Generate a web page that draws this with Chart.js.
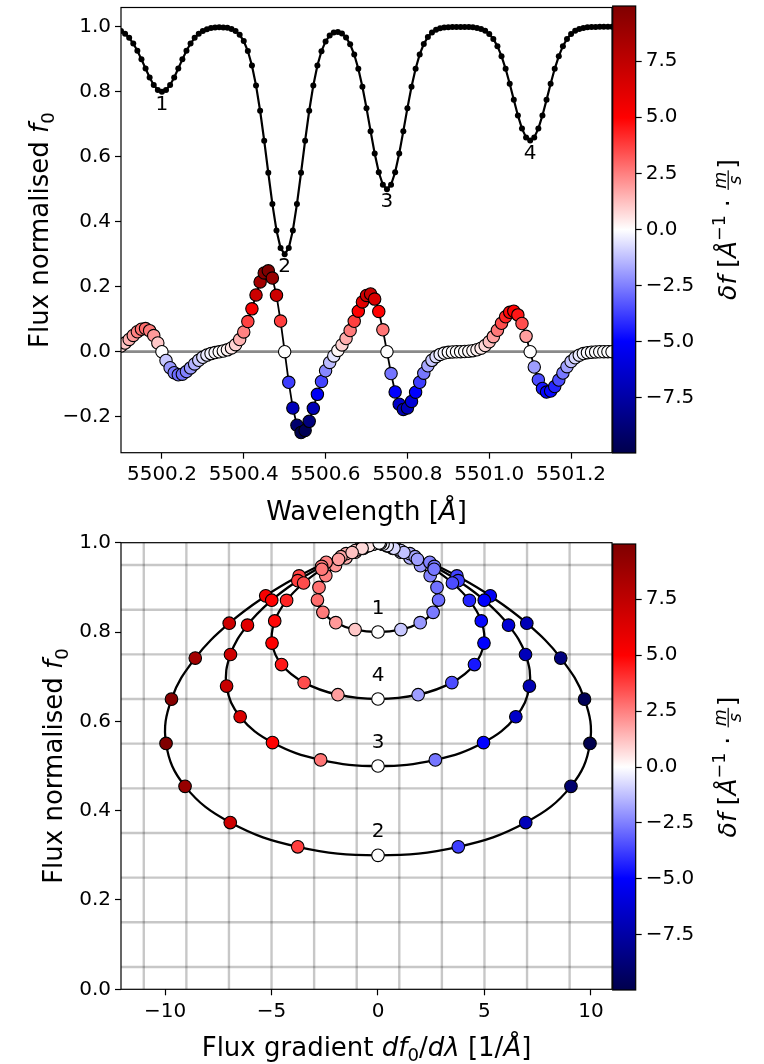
<!DOCTYPE html>
<html>
<head>
<meta charset="utf-8">
<script src="https://cdn.jsdelivr.net/npm/chart.js@4.4.1/dist/chart.umd.min.js"></script>
<style>
  html, body { margin: 0; padding: 0; background: #fff; }
  #fig { position: relative; width: 764px; height: 1064px; overflow: hidden; background: #fff; }
  #fig canvas { position: absolute; }
</style>
</head>
<body>
<div id="fig">
  <canvas id="spec"></canvas>
  <canvas id="specBar"></canvas>
  <canvas id="phase"></canvas>
  <canvas id="phaseBar"></canvas>
</div>
<script>
// ---------------------------------------------------------------------------
// Spectrum sampled every 0.01 Å: normalised flux f0 and its gradient df0/dλ
// ---------------------------------------------------------------------------
const wavelength = [
  5500.10, 5500.11, 5500.12, 5500.13, 5500.14, 5500.15, 5500.16, 5500.17, 5500.18, 5500.19,
  5500.20, 5500.21, 5500.22, 5500.23, 5500.24, 5500.25, 5500.26, 5500.27, 5500.28, 5500.29,
  5500.30, 5500.31, 5500.32, 5500.33, 5500.34, 5500.35, 5500.36, 5500.37, 5500.38, 5500.39,
  5500.40, 5500.41, 5500.42, 5500.43, 5500.44, 5500.45, 5500.46, 5500.47, 5500.48, 5500.49,
  5500.50, 5500.51, 5500.52, 5500.53, 5500.54, 5500.55, 5500.56, 5500.57, 5500.58, 5500.59,
  5500.60, 5500.61, 5500.62, 5500.63, 5500.64, 5500.65, 5500.66, 5500.67, 5500.68, 5500.69,
  5500.70, 5500.71, 5500.72, 5500.73, 5500.74, 5500.75, 5500.76, 5500.77, 5500.78, 5500.79,
  5500.80, 5500.81, 5500.82, 5500.83, 5500.84, 5500.85, 5500.86, 5500.87, 5500.88, 5500.89,
  5500.90, 5500.91, 5500.92, 5500.93, 5500.94, 5500.95, 5500.96, 5500.97, 5500.98, 5500.99,
  5501.00, 5501.01, 5501.02, 5501.03, 5501.04, 5501.05, 5501.06, 5501.07, 5501.08, 5501.09,
  5501.10, 5501.11, 5501.12, 5501.13, 5501.14, 5501.15, 5501.16, 5501.17, 5501.18, 5501.19,
  5501.20, 5501.21, 5501.22, 5501.23, 5501.24, 5501.25, 5501.26, 5501.27, 5501.28, 5501.29,
  5501.30
];

const flux = [
  0.9874, 0.9788, 0.9660, 0.9485, 0.9262, 0.8999, 0.8716, 0.8441, 0.8210, 0.8055,
  0.8000, 0.8055, 0.8210, 0.8441, 0.8716, 0.8999, 0.9262, 0.9485, 0.9660, 0.9788,
  0.9874, 0.9929, 0.9962, 0.9979, 0.9985, 0.9982, 0.9968, 0.9934, 0.9870, 0.9754,
  0.9561, 0.9256, 0.8810, 0.8197, 0.7416, 0.6496, 0.5505, 0.4544, 0.3734, 0.3191,
  0.3000, 0.3191, 0.3734, 0.4544, 0.5505, 0.6496, 0.7416, 0.8196, 0.8808, 0.9252,
  0.9551, 0.9732, 0.9824, 0.9842, 0.9794, 0.9672, 0.9463, 0.9147, 0.8711, 0.8154,
  0.7497, 0.6789, 0.6103, 0.5524, 0.5137, 0.5000, 0.5137, 0.5524, 0.6103, 0.6789,
  0.7497, 0.8154, 0.8712, 0.9150, 0.9469, 0.9686, 0.9824, 0.9907, 0.9954, 0.9978,
  0.9990, 0.9996, 0.9998, 0.9998, 0.9997, 0.9993, 0.9985, 0.9967, 0.9935, 0.9877,
  0.9780, 0.9628, 0.9405, 0.9098, 0.8708, 0.8248, 0.7752, 0.7272, 0.6867, 0.6596,
  0.6500, 0.6596, 0.6867, 0.7272, 0.7752, 0.8248, 0.8708, 0.9098, 0.9405, 0.9628,
  0.9780, 0.9877, 0.9935, 0.9967, 0.9985, 0.9993, 0.9997, 0.9999, 1.0000, 1.0000,
  1.0000
];

const fluxGradient = [
  -0.695, -1.059, -1.506, -1.997, -2.452, -2.771, -2.844, -2.589, -1.982, -1.077,
   0.000,  1.077,  1.982,  2.589,  2.844,  2.771,  2.452,  1.997,  1.506,  1.059,
   0.694,  0.424,  0.238,  0.112,  0.016, -0.082, -0.224, -0.462, -0.861, -1.495,
  -2.433, -3.705, -5.272, -6.988, -8.583, -9.699, -9.955, -9.062, -6.939, -3.770,
   0.000,  3.770,  6.939,  9.062,  9.955,  9.698,  8.581,  6.982,  5.257,  3.668,
   2.351,  1.326,  0.529, -0.149, -0.830, -1.623, -2.595, -3.744, -4.982, -6.128,
  -6.927, -7.111, -6.473, -4.956, -2.693,  0.000,  2.693,  4.956,  6.473,  7.111,
   6.928,  6.131,  4.991,  3.766,  2.646,  1.738,  1.069,  0.617,  0.335,  0.171,
   0.081,  0.035,  0.011, -0.005, -0.024, -0.056, -0.119, -0.234, -0.432, -0.748,
  -1.216, -1.852, -2.636, -3.494, -4.292, -4.850, -4.977, -4.531, -3.469, -1.885,
   0.000,  1.885,  3.469,  4.531,  4.977,  4.850,  4.292,  3.494,  2.636,  1.852,
   1.216,  0.748,  0.432,  0.234,  0.119,  0.057,  0.026,  0.011,  0.004,  0.002,
   0.001
];

// ---------------------------------------------------------------------------
// Each absorption line on its own: flux and gradient on the same 0.01 Å grid
// ---------------------------------------------------------------------------
const line1Flux = [
  0.9874, 0.9788, 0.9660, 0.9485, 0.9262, 0.8999, 0.8716, 0.8441, 0.8210, 0.8055,
  0.8000, 0.8055, 0.8210, 0.8441, 0.8716, 0.8999, 0.9262, 0.9485, 0.9660, 0.9788,
  0.9874, 0.9930, 0.9963, 0.9981, 0.9991, 0.9996
];
const line1Gradient = [
  -0.695, -1.059, -1.506, -1.997, -2.452, -2.771, -2.844, -2.589, -1.982, -1.077,
   0.000,  1.077,  1.982,  2.589,  2.844,  2.771,  2.452,  1.997,  1.506,  1.059,
   0.695,  0.428,  0.247,  0.134,  0.068,  0.033
];

const line2Flux = [
  0.9986, 0.9969, 0.9935, 0.9870, 0.9754, 0.9561, 0.9256, 0.8810, 0.8197, 0.7416,
  0.6496, 0.5505, 0.4544, 0.3734, 0.3191, 0.3000, 0.3191, 0.3734, 0.4544, 0.5505,
  0.6496, 0.7416, 0.8197, 0.8810, 0.9256, 0.9561, 0.9754, 0.9870, 0.9935, 0.9969,
  0.9986
];
const line2Gradient = [
  -0.115, -0.239, -0.468, -0.864, -1.496, -2.433, -3.705, -5.272, -6.988, -8.583,
  -9.699, -9.955, -9.062, -6.939, -3.770,  0.000,  3.770,  6.939,  9.062,  9.955,
   9.699,  8.583,  6.988,  5.272,  3.705,  2.433,  1.496,  0.864,  0.468,  0.239,
   0.115
];

const line3Flux = [
  0.9990, 0.9978, 0.9954, 0.9907, 0.9824, 0.9686, 0.9469, 0.9150, 0.8712, 0.8154,
  0.7497, 0.6789, 0.6103, 0.5524, 0.5137, 0.5000, 0.5137, 0.5524, 0.6103, 0.6789,
  0.7497, 0.8154, 0.8712, 0.9150, 0.9469, 0.9686, 0.9824, 0.9907, 0.9954, 0.9978,
  0.9990
];
const line3Gradient = [
  -0.082, -0.171, -0.335, -0.617, -1.069, -1.738, -2.646, -3.766, -4.991, -6.131,
  -6.928, -7.111, -6.473, -4.956, -2.693,  0.000,  2.693,  4.956,  6.473,  7.111,
   6.928,  6.131,  4.991,  3.766,  2.646,  1.738,  1.069,  0.617,  0.335,  0.171,
   0.082
];

const line4Flux = [
  0.9993, 0.9985, 0.9967, 0.9935, 0.9877, 0.9780, 0.9628, 0.9405, 0.9098, 0.8708,
  0.8248, 0.7752, 0.7272, 0.6867, 0.6596, 0.6500, 0.6596, 0.6867, 0.7272, 0.7752,
  0.8248, 0.8708, 0.9098, 0.9405, 0.9628, 0.9780, 0.9877, 0.9935, 0.9967, 0.9985,
  0.9993
];
const line4Gradient = [
  -0.057, -0.119, -0.234, -0.432, -0.748, -1.216, -1.852, -2.636, -3.494, -4.292,
  -4.850, -4.977, -4.531, -3.469, -1.885,  0.000,  1.885,  3.469,  4.531,  4.977,
   4.850,  4.292,  3.494,  2.636,  1.852,  1.216,  0.748,  0.432,  0.234,  0.119,
   0.057
];

// Line identifiers, centres [Å] and central flux depths
const lineNames   = ['1', '2', '3', '4'];
const lineCentres = [5500.20, 5500.50, 5500.75, 5501.10];
const lineMinima  = [0.80, 0.30, 0.50, 0.65];

// Axis ticks, grid positions and the colour range of δf
const wavelengthTicks = [5500.2, 5500.4, 5500.6, 5500.8, 5501.0, 5501.2];
const fluxTicksTop    = [-0.2, 0.0, 0.2, 0.4, 0.6, 0.8, 1.0];
const fluxTicksBottom = [0.0, 0.2, 0.4, 0.6, 0.8, 1.0];
const gradientTicks   = [-10, -5, 0, 5, 10];
const colourTicks     = [-7.5, -5.0, -2.5, 0.0, 2.5, 5.0, 7.5];
const gridGradient    = [-11, -9, -7, -5, -3, -1, 1, 3, 5, 7, 9];
const gridFlux        = [0.05, 0.15, 0.25, 0.35, 0.45, 0.55, 0.65, 0.75, 0.85, 0.95];
const colourRange     = [-9.956, 9.956];

// ---------------------------------------------------------------------------
// Helpers
// ---------------------------------------------------------------------------
const FONT = '"DejaVu Sans", sans-serif';
Chart.defaults.font.family = FONT;
Chart.defaults.color = '#000';
Chart.defaults.animation = false;

const MINUS = '\u2212';
const fmt = (v, d) => { const s = Math.abs(v).toFixed(d); return (v < -1e-9 ? MINUS : '') + s; };

// matplotlib "seismic" colour map
function seismic(v) {
  let t = (v - colourRange[0]) / (colourRange[1] - colourRange[0]);
  t = Math.max(0, Math.min(1, t));
  let r, g, b;
  if (t < 0.25)      { r = 0; g = 0; b = 0.3 + 0.7 * t / 0.25; }
  else if (t < 0.5)  { const s = (t - 0.25) / 0.25; r = s; g = s; b = 1; }
  else if (t < 0.75) { const s = (t - 0.5) / 0.25; r = 1; g = 1 - s; b = 1 - s; }
  else               { const s = (t - 0.75) / 0.25; r = 1 - 0.5 * s; g = 0; b = 0; }
  return `rgb(${Math.round(r * 255)},${Math.round(g * 255)},${Math.round(b * 255)})`;
}
// δf is the negative of the flux gradient
const deltaColour = (grad) => seismic(-grad);

// Text made of runs (italic, sub/superscript, small fraction)
function runFont(r, base) {
  return (r.it ? 'italic ' : '') + (base * (r.s || 1)).toFixed(2) + 'px ' + FONT;
}
function runWidth(ctx, r, base) {
  ctx.font = runFont(r, base);
  if (r.frac) {
    return Math.max(ctx.measureText(r.frac[0]).width, ctx.measureText(r.frac[1]).width) + base * 0.22;
  }
  return ctx.measureText(r.t).width;
}
function drawRich(ctx, runs, cx, cy, base, angle) {
  ctx.save();
  ctx.translate(cx, cy);
  ctx.rotate(angle || 0);
  ctx.fillStyle = '#000';
  ctx.textBaseline = 'alphabetic';
  const widths = runs.map(r => runWidth(ctx, r, base));
  const total = widths.reduce((a, b) => a + b, 0);
  let x = -total / 2;
  const baseY = base * 0.36;
  runs.forEach((r, i) => {
    ctx.font = runFont(r, base);
    if (r.frac) {
      const w = widths[i];
      const axisY = baseY - base * 0.3;
      const small = base * (r.s || 1);
      ctx.textAlign = 'center';
      ctx.fillText(r.frac[0], x + w / 2, axisY - base * 0.1);
      ctx.fillText(r.frac[1], x + w / 2, axisY + base * 0.1 + small * 0.56);
      ctx.fillRect(x + base * 0.06, axisY - 0.6, w - base * 0.12, 1.2);
    } else {
      ctx.textAlign = 'left';
      ctx.fillText(r.t, x, baseY + (r.dy || 0) * base);
    }
    x += widths[i];
  });
  ctx.restore();
}

function setupCanvas(id, left, top, width, height) {
  const c = document.getElementById(id);
  c.width = width; c.height = height;
  c.style.left = left + 'px'; c.style.top = top + 'px';
  c.style.width = width + 'px'; c.style.height = height + 'px';
  return c;
}

const TICK_FONT = { family: FONT, size: 20 };
const LABEL_SIZE = 26;

function tickAxis(values, digits, extra) {
  return Object.assign({
    type: 'linear',
    afterBuildTicks: (s) => { s.ticks = values.map(v => ({ value: v })); },
    ticks: { font: TICK_FONT, color: '#000', padding: 4, autoSkip: false, maxRotation: 0,
             callback: (v) => fmt(v, digits) },
    grid: { drawOnChartArea: false, drawTicks: true, tickLength: 6, tickWidth: 1.2, tickColor: '#000' },
    border: { display: false }
  }, extra);
}

// Axes frame drawn above the data
const framePlugin = {
  id: 'frame',
  afterDatasetsDraw(chart) {
    const a = chart.chartArea, ctx = chart.ctx;
    ctx.save();
    ctx.strokeStyle = '#000';
    ctx.lineWidth = 1.2;
    ctx.strokeRect(a.left, a.top, a.right - a.left, a.bottom - a.top);
    ctx.restore();
  }
};

// ---------------------------------------------------------------------------
// Upper panel: spectrum and δf
// ---------------------------------------------------------------------------
const SHIFT_SCALE = 0.025;  // display height of δf relative to the flux axis
const Y_TOP = [-0.311, 1.0595];

const specPoints  = wavelength.map((w, i) => ({ x: w, y: flux[i] }));
const shiftPoints = wavelength.map((w, i) => ({ x: w, y: fluxGradient[i] }));

const specDecor = {
  id: 'specDecor',
  beforeDatasetsDraw(chart) {
    const a = chart.chartArea, ctx = chart.ctx;
    const y0 = chart.scales.y.getPixelForValue(0);
    ctx.save();
    ctx.strokeStyle = '#8a8a8a';
    ctx.lineWidth = 2.6;
    ctx.beginPath(); ctx.moveTo(a.left, y0); ctx.lineTo(a.right, y0); ctx.stroke();
    ctx.restore();
  },
  afterDraw(chart) {
    const ctx = chart.ctx, a = chart.chartArea, sx = chart.scales.x, sy = chart.scales.y;
    ctx.save();
    ctx.fillStyle = '#000';
    ctx.font = '20px ' + FONT;
    ctx.textAlign = 'center';
    ctx.textBaseline = 'middle';
    lineNames.forEach((n, k) => {
      ctx.fillText(n, sx.getPixelForValue(lineCentres[k]), sy.getPixelForValue(lineMinima[k] - 0.04));
    });
    ctx.restore();
    drawRich(ctx, [{ t: 'Wavelength [' }, { t: 'Å', it: true }, { t: ']' }],
             (a.left + a.right) / 2, a.bottom + 58, LABEL_SIZE, 0);
    drawRich(ctx, [{ t: 'Flux normalised ' }, { t: 'f', it: true }, { t: '0', s: 0.7, dy: 0.22 }],
             a.left - 82, (a.top + a.bottom) / 2, LABEL_SIZE, -Math.PI / 2);
  }
};

setupCanvas('spec', 0, -20, 640, 550);
new Chart(document.getElementById('spec'), {
  type: 'scatter',
  data: {
    datasets: [
      { // spectrum
        data: specPoints, yAxisID: 'y', order: 1, showLine: true, tension: 0, clip: 0,
        borderColor: '#000', borderWidth: 2.2,
        pointRadius: 3.0, pointBackgroundColor: '#000', pointBorderWidth: 0
      },
      { // δf markers
        data: shiftPoints, yAxisID: 'yShift', order: 2, showLine: false, clip: 0,
        pointRadius: 6.2, pointBorderWidth: 1.1, pointBorderColor: '#000',
        pointBackgroundColor: fluxGradient.map(deltaColour)
      },
      { // δf connecting line
        data: shiftPoints, yAxisID: 'yShift', order: 3, showLine: true, tension: 0, clip: 0,
        borderColor: '#000', borderWidth: 1.8, pointRadius: 0
      }
    ]
  },
  options: {
    responsive: false, events: [],
    layout: { padding: { left: 0, right: 28, top: 27.5, bottom: 0 } },
    plugins: { legend: { display: false }, tooltip: { enabled: false } },
    scales: {
      x: tickAxis(wavelengthTicks, 1, { position: 'bottom', min: 5500.1, max: 5501.3,
            afterFit: (s) => { s.height = 77.3; } }),
      y: tickAxis(fluxTicksTop, 1, { position: 'left', min: Y_TOP[0], max: Y_TOP[1],
            afterFit: (s) => { s.width = 121; } }),
      // gradient axis: δf = −df0/dλ drawn at SHIFT_SCALE of the flux axis
      yShift: { type: 'linear', axis: 'y', position: 'right', display: false, reverse: true,
                min: -Y_TOP[1] / SHIFT_SCALE, max: -Y_TOP[0] / SHIFT_SCALE }
    }
  },
  plugins: [specDecor, framePlugin]
});

// ---------------------------------------------------------------------------
// Lower panel: flux against flux gradient for each line
// ---------------------------------------------------------------------------
const lineSets = [
  { flux: line1Flux, grad: line1Gradient },
  { flux: line2Flux, grad: line2Gradient },
  { flux: line3Flux, grad: line3Gradient },
  { flux: line4Flux, grad: line4Gradient }
];

const phaseDatasets = [];
lineSets.forEach((L, k) => {
  const pts = L.grad.map((g, i) => ({ x: g, y: L.flux[i] }));
  phaseDatasets.push({
    data: pts, order: 20 - k, showLine: true, tension: 0.4, clip: 0,
    borderColor: '#000', borderWidth: 2.3, pointRadius: 0
  });
  phaseDatasets.push({
    data: pts, order: 10 - k, showLine: false, clip: 0,
    pointRadius: 6.3, pointBorderWidth: 1.1, pointBorderColor: '#000',
    pointBackgroundColor: L.grad.map(deltaColour)
  });
});

const phaseDecor = {
  id: 'phaseDecor',
  beforeDatasetsDraw(chart) {
    const a = chart.chartArea, ctx = chart.ctx, sx = chart.scales.x, sy = chart.scales.y;
    ctx.save();
    ctx.strokeStyle = 'rgba(0,0,0,0.22)';
    ctx.lineWidth = 2.4;
    gridGradient.forEach(v => {
      const x = sx.getPixelForValue(v);
      ctx.beginPath(); ctx.moveTo(x, a.top); ctx.lineTo(x, a.bottom); ctx.stroke();
    });
    gridFlux.forEach(v => {
      const y = sy.getPixelForValue(v);
      ctx.beginPath(); ctx.moveTo(a.left, y); ctx.lineTo(a.right, y); ctx.stroke();
    });
    ctx.restore();
  },
  afterDraw(chart) {
    const ctx = chart.ctx, a = chart.chartArea, sx = chart.scales.x, sy = chart.scales.y;
    ctx.save();
    ctx.fillStyle = '#000';
    ctx.font = '20px ' + FONT;
    ctx.textAlign = 'center';
    ctx.textBaseline = 'middle';
    lineNames.forEach((n, k) => {
      ctx.fillText(n, sx.getPixelForValue(0), sy.getPixelForValue(lineMinima[k] + 0.052));
    });
    ctx.restore();
    drawRich(ctx, [{ t: 'Flux gradient ' }, { t: 'df', it: true }, { t: '0', s: 0.7, dy: 0.22 },
                   { t: '/' }, { t: 'dλ', it: true }, { t: ' [1/' }, { t: 'Å', it: true }, { t: ']' }],
             (a.left + a.right) / 2, a.bottom + 57, LABEL_SIZE, 0);
    drawRich(ctx, [{ t: 'Flux normalised ' }, { t: 'f', it: true }, { t: '0', s: 0.7, dy: 0.22 }],
             a.left - 68, (a.top + a.bottom) / 2, LABEL_SIZE, -Math.PI / 2);
  }
};

setupCanvas('phase', 0, 510, 640, 554);
new Chart(document.getElementById('phase'), {
  type: 'scatter',
  data: { datasets: phaseDatasets },
  options: {
    responsive: false, events: [],
    layout: { padding: { left: 0, right: 28, top: 32.7, bottom: 0 } },
    plugins: { legend: { display: false }, tooltip: { enabled: false } },
    scales: {
      x: tickAxis(gradientTicks, 0, { position: 'bottom', min: -12.07, max: 10.99,
            afterFit: (s) => { s.height = 74.7; } }),
      y: tickAxis(fluxTicksBottom, 1, { position: 'left', min: 0, max: 1.0,
            afterFit: (s) => { s.width = 121; } })
    }
  },
  plugins: [phaseDecor, framePlugin]
});

// ---------------------------------------------------------------------------
// Colour bars for δf
// ---------------------------------------------------------------------------
const colourBarPlugin = {
  id: 'colourBar',
  beforeDatasetsDraw(chart) {
    const a = chart.chartArea, ctx = chart.ctx;
    const grd = ctx.createLinearGradient(0, a.bottom, 0, a.top);
    const steps = 40;
    for (let i = 0; i <= steps; i++) {
      const f = i / steps;
      grd.addColorStop(f, seismic(colourRange[0] + f * (colourRange[1] - colourRange[0])));
    }
    ctx.save();
    ctx.fillStyle = grd;
    ctx.fillRect(a.left, a.top, a.right - a.left, a.bottom - a.top);
    ctx.strokeStyle = '#000';
    ctx.lineWidth = 1.2;
    ctx.strokeRect(a.left, a.top, a.right - a.left, a.bottom - a.top);
    ctx.restore();
  },
  afterDraw(chart) {
    const a = chart.chartArea;
    drawRich(chart.ctx,
      [{ t: 'δf', it: true }, { t: ' [' }, { t: 'Å', it: true }, { t: MINUS + '1', s: 0.7, dy: -0.42 },
       { t: ' · ' }, { frac: ['m', 's'], it: true, s: 0.7 }, { t: ']' }],
      a.right + 91, (a.top + a.bottom) / 2, 25, -Math.PI / 2);
  }
};

function colourBar(id, top, height, padTop, padBottom) {
  setupCanvas(id, 600, top, 164, height);
  new Chart(document.getElementById(id), {
    type: 'scatter',
    data: { datasets: [] },
    options: {
      responsive: false, events: [],
      layout: { padding: { left: 12.7, right: 0, top: padTop, bottom: padBottom } },
      plugins: { legend: { display: false }, tooltip: { enabled: false } },
      scales: {
        x: { type: 'linear', display: false, min: 0, max: 1 },
        y: tickAxis(colourTicks, 1, { position: 'right', min: colourRange[0], max: colourRange[1],
              afterFit: (s) => { s.width = 128.3; } })
      }
    },
    plugins: [colourBarPlugin]
  });
}
colourBar('specBar', -20, 550, 26, 77);
colourBar('phaseBar', 510, 554, 34, 74);
</script>
</body>
</html>
